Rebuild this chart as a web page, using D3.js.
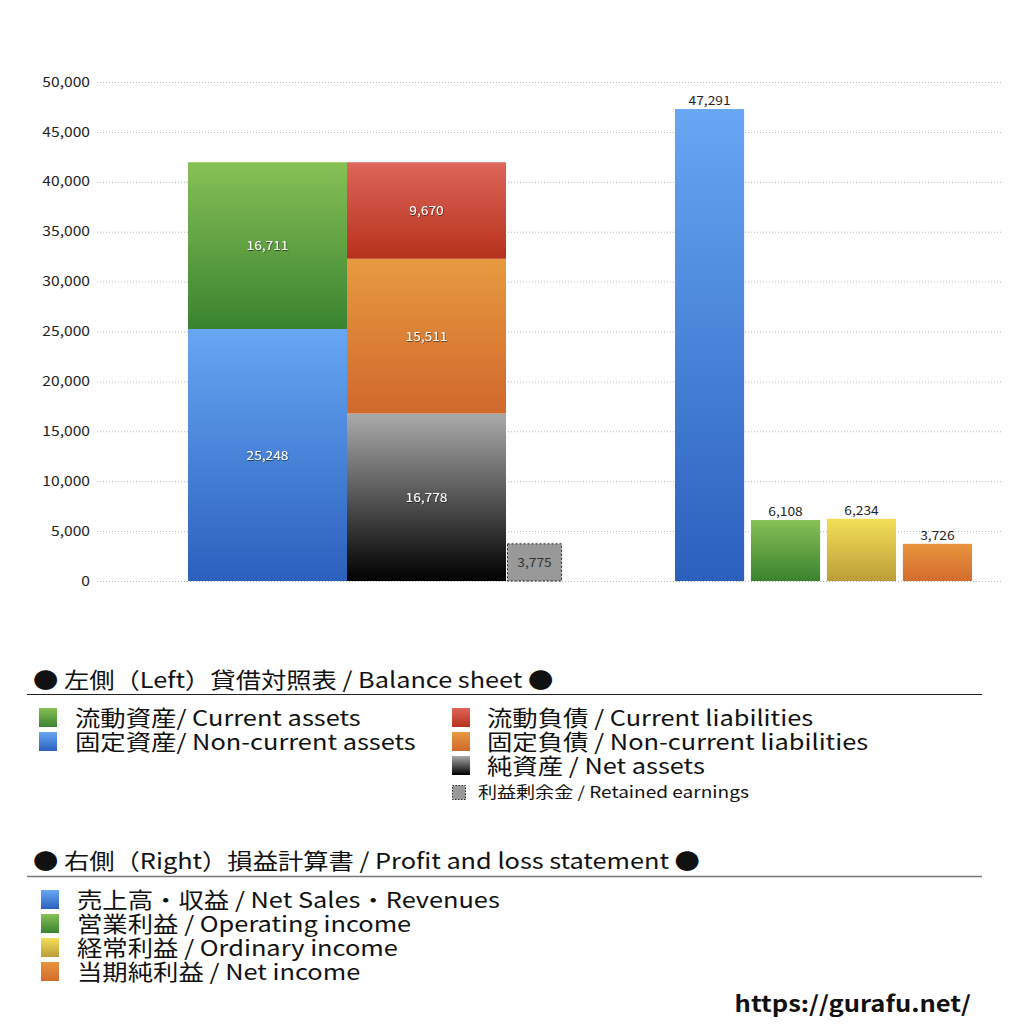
<!DOCTYPE html>
<html><head><meta charset="utf-8">
<script src="https://cdn.jsdelivr.net/npm/d3@7"></script>
<style>
html,body{margin:0;padding:0;background:#fff;}
svg{display:block;font-family:"Noto Sans CJK JP","Noto Sans",sans-serif;}
</style></head>
<body><svg id="c" width="1024" height="1024"></svg>
<script>
// ---- data ----
const yTicks = [0,5000,10000,15000,20000,25000,30000,35000,40000,45000,50000];
const bsColumns = ["資産","負債・純資産"];
const assetNames = ["固定資産","流動資産"];
const assetValues = [25248, 16711];
const liabNames = ["純資産","固定負債","流動負債"];
const liabValues = [16778, 15511, 9670];
const retainedName = "利益剰余金";
const retainedValue = 3775;
const plNames = ["売上高・収益","営業利益","経常利益","当期純利益"];
const plValues = [47291, 6108, 6234, 3726];

const legendLeftA = ["流動資産/ Current assets","固定資産/ Non-current assets"];
const legendLeftB = ["流動負債 /  Current liabilities","固定負債 / Non-current liabilities","純資産 / Net assets"];
const legendRight = ["売上高・収益 / Net Sales・Revenues","営業利益 / Operating income","経常利益 / Ordinary income","当期純利益 / Net income"];

// ---- styles ----
const grads = {
  blue:["#67a7f3","#2b60bd"], green:["#87c056","#39832f"], red:["#dd665a","#b7311c"],
  orange:["#e79a40","#d0682c"], black:["#aaaaaa","#000000"], yellow:["#f3df57","#bc9d38"],
  orange2:["#e8943d","#d36c2e"]
};
const svg = d3.select("#c");
const defs = svg.append("defs");
Object.entries(grads).forEach(([k,[a,b]])=>{
  const g = defs.append("linearGradient").attr("id","g-"+k).attr("x1",0).attr("y1",0).attr("x2",0).attr("y2",1);
  g.append("stop").attr("offset","0%").attr("stop-color",a);
  g.append("stop").attr("offset","100%").attr("stop-color",b);
});
const f = defs.append("filter").attr("id","sh").attr("x","-20%").attr("y","-30%").attr("width","140%").attr("height","160%");
f.append("feDropShadow").attr("dx",0.5).attr("dy",0.7).attr("stdDeviation",0.5).attr("flood-color","#000").attr("flood-opacity",0.7);

// widen glyphs to mimic the reference's wider typeface
function widen(sel, k){
  sel.each(function(){
    const w = this.getComputedTextLength();
    d3.select(this).attr("textLength", w*k).attr("lengthAdjust","spacingAndGlyphs");
  });
}

const fmt = d3.format(",");
const y = d3.scaleLinear().domain([0,50000]).range([581,82]);

// grid + axis
svg.append("g").selectAll("line").data(yTicks).join("line")
  .attr("x1",97).attr("x2",1003).attr("y1",d=>y(d)+0.5).attr("y2",d=>y(d)+0.5)
  .attr("stroke","#b5b5b5").attr("stroke-width",1).attr("stroke-dasharray","1,2");
const axis = d3.axisLeft(y).tickValues(yTicks).tickFormat(fmt).tickSize(0).tickPadding(0);
const ax = svg.append("g").attr("transform","translate(90,0)").call(axis);
ax.select(".domain").remove();
ax.selectAll("text").attr("font-size",13).attr("fill","#222").attr("font-family","'Noto Sans CJK JP',sans-serif");
widen(ax.selectAll("text"),1.2);

// left balance sheet
const xL = d3.scaleBand().domain(bsColumns).range([188,506]).paddingInner(0);
function stack(vals){let s=0;return vals.map(v=>{const o={y0:s,y1:s+v,v};s+=v;return o;});}
const aSt = stack(assetValues), lSt = stack(liabValues);
const assetCols = ["blue","green"], liabCols = ["black","orange","red"];
const gL = svg.append("g");
function drawStack(st, col, cols){
  gL.selectAll(null).data(st).join("rect")
    .attr("x",xL(col)).attr("width",xL.bandwidth())
    .attr("y",d=>y(d.y1)).attr("height",d=>y(d.y0)-y(d.y1))
    .attr("fill",(d,i)=>`url(#g-${cols[i]})`);
  const t = gL.selectAll(null).data(st).join("text")
    .attr("x",xL(col)+xL.bandwidth()/2).attr("y",d=>y((d.y0+d.y1)/2)+4.5)
    .attr("text-anchor","middle").attr("font-size",12.5).attr("fill","#fff")
    .attr("filter","url(#sh)").text(d=>fmt(d.v));
  widen(t,1.1);
}
drawStack(aSt,bsColumns[0],assetCols);
drawStack(lSt,bsColumns[1],liabCols);
// retained earnings
const rx = xL(bsColumns[1])+xL.bandwidth()+1, rw = xL.bandwidth()*0.34;
gL.append("rect").datum(retainedValue).attr("x",rx+0.5).attr("width",rw)
  .attr("y",d=>y(d)+0.5).attr("height",d=>y(0)-y(d)-0.5)
  .attr("fill","#999").attr("stroke","#222").attr("stroke-width",1).attr("stroke-dasharray","2,2");
widen(gL.append("text").attr("x",rx+rw/2+0.5).attr("y",y(retainedValue/2)+4.5).attr("text-anchor","middle")
  .attr("font-size",12.5).attr("fill","#333").text(fmt(retainedValue)),1.1);

// right P&L
const xR = d3.scaleBand().domain(plNames).range([675,972]).paddingInner(0.09);
const plCols = ["blue","green","yellow","orange2"];
const gR = svg.append("g");
gR.selectAll("rect").data(plValues).join("rect")
  .attr("x",(d,i)=>xR(plNames[i])).attr("width",xR.bandwidth())
  .attr("y",d=>y(d)).attr("height",d=>y(0)-y(d))
  .attr("fill",(d,i)=>`url(#g-${plCols[i]})`);
widen(gR.selectAll("text").data(plValues).join("text")
  .attr("x",(d,i)=>xR(plNames[i])+xR.bandwidth()/2).attr("y",d=>y(d)-4)
  .attr("text-anchor","middle").attr("font-size",12).attr("fill","#222").text(d=>fmt(d)),1.15);

// legends
const lg = svg.append("g").attr("fill","#111");
widen(lg.append("text").attr("x",33).attr("y",688).attr("font-size",22).text("● 左側（Left）貸借対照表 / Balance sheet ●"),1.15);
lg.append("line").attr("x1",27).attr("x2",982).attr("y1",694.5).attr("y2",694.5).attr("stroke","#222").attr("stroke-width",1.2);
function item(x, tx, yy, col, label){
  lg.append("rect").attr("x",x).attr("y",yy-18).attr("width",18).attr("height",19).attr("fill",`url(#g-${col})`);
  widen(lg.append("text").attr("x",tx).attr("y",yy).attr("font-size",21.5).text(label),1.18);
}
const la = ["green","blue"], lb = ["red","orange","black"];
legendLeftA.forEach((t,i)=>item(39,75,726+i*24,la[i],t));
legendLeftB.forEach((t,i)=>item(452,487,726+i*24,lb[i],t));
lg.append("rect").attr("x",452.5).attr("y",785.5).attr("width",13).attr("height",14).attr("fill","#999").attr("stroke","#222").attr("stroke-dasharray","1.5,1.5");
widen(lg.append("text").attr("x",478).attr("y",798).attr("font-size",16).text("利益剰余金 / Retained earnings"),1.19);

widen(lg.append("text").attr("x",33).attr("y",869).attr("font-size",22).text("● 右側（Right）損益計算書 / Profit and loss statement ●"),1.15);
lg.append("line").attr("x1",27).attr("x2",982).attr("y1",876.5).attr("y2",876.5).attr("stroke","#777").attr("stroke-width",1.5);
const lr = ["blue","green","yellow","orange2"];
legendRight.forEach((t,i)=>item(41,77,908+i*24,lr[i],t));

widen(svg.append("text").attr("x",971).attr("y",1012).attr("text-anchor","end").attr("font-size",22).attr("font-weight","bold")
  .attr("fill","#111").text("https://gurafu.net/"),1.16);
</script></body></html>
